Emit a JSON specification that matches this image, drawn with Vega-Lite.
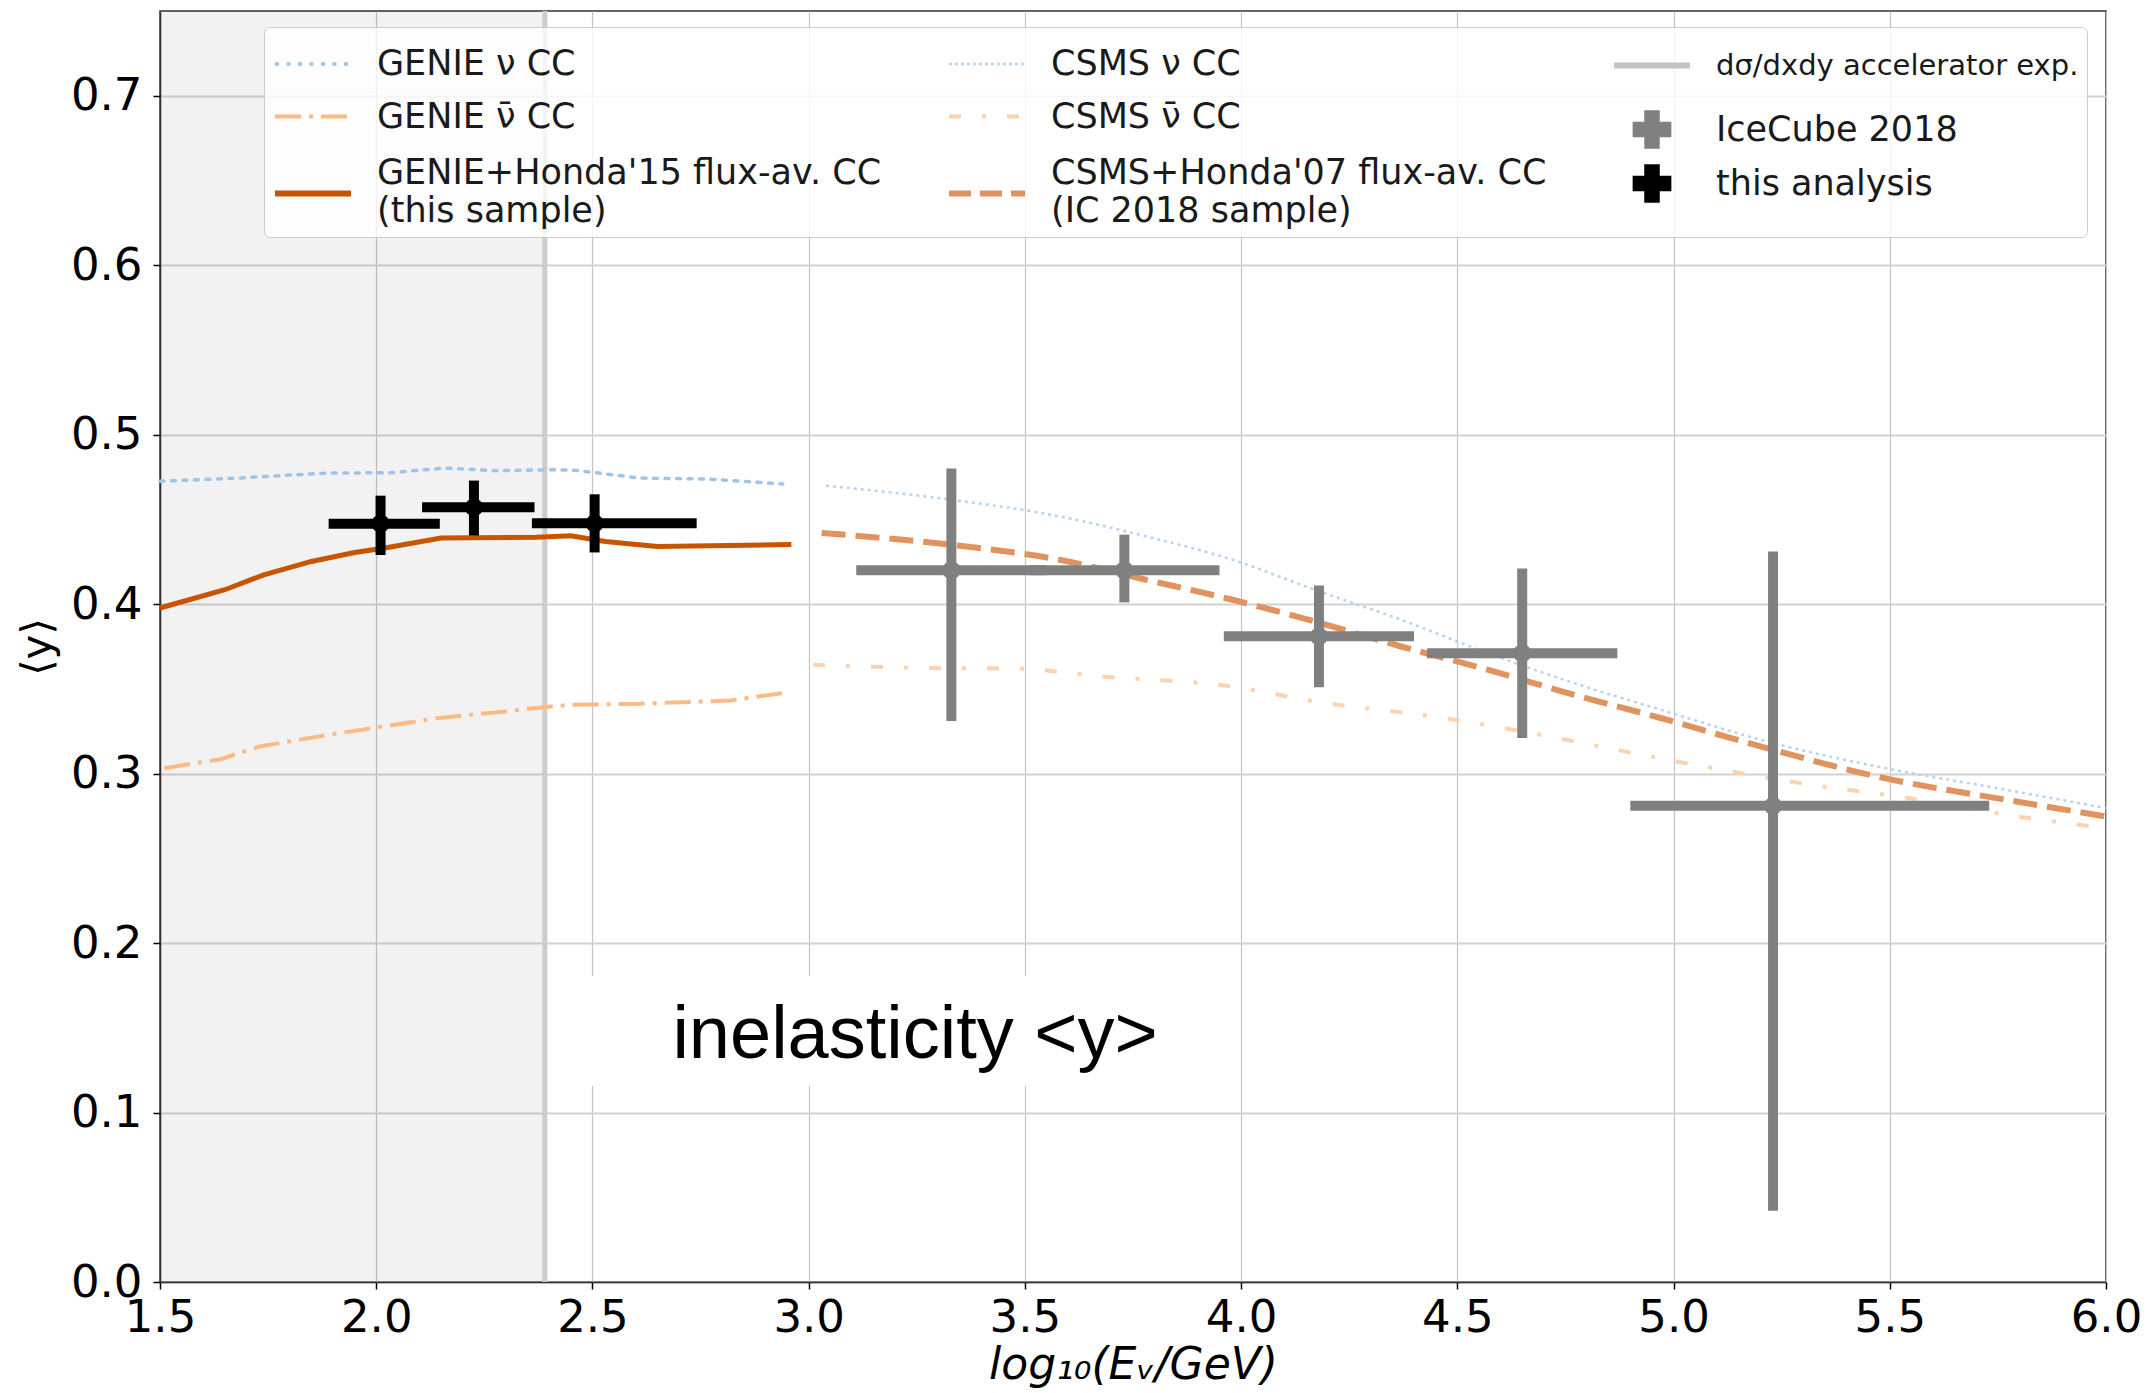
{
  "$schema": "https://vega.github.io/schema/vega-lite/v6.json",
  "width": 1946,
  "height": 1271,
  "autosize": {"type": "none"},
  "padding": {"left": 160, "top": 11, "right": 44, "bottom": 111},
  "background": "white",
  "config": {
    "view": {"stroke": "#333333", "strokeWidth": 1.5},
    "axis": {
      "labelFont": "DejaVu Sans", "labelFontSize": 45, "labelColor": "#000000",
      "labelFlush": false, "labelOverlap": false,
      "tickSize": 7, "tickColor": "#000000", "tickWidth": 1.5,
      "domainColor": "#333333", "domainWidth": 1.5,
      "titleFont": "DejaVu Sans", "titleFontWeight": "normal", "titleColor": "#000000"
    }
  },
  "datasets": {
    "curves": [
      {"series": "GENIE ν CC", "x": 1.50, "y": 0.4725},
      {"series": "GENIE ν CC", "x": 1.68, "y": 0.4744},
      {"series": "GENIE ν CC", "x": 1.89, "y": 0.4774},
      {"series": "GENIE ν CC", "x": 2.03, "y": 0.4775},
      {"series": "GENIE ν CC", "x": 2.16, "y": 0.4803},
      {"series": "GENIE ν CC", "x": 2.28, "y": 0.4787},
      {"series": "GENIE ν CC", "x": 2.40, "y": 0.4793},
      {"series": "GENIE ν CC", "x": 2.46, "y": 0.4790},
      {"series": "GENIE ν CC", "x": 2.61, "y": 0.4744},
      {"series": "GENIE ν CC", "x": 2.77, "y": 0.4738},
      {"series": "GENIE ν CC", "x": 2.94, "y": 0.4709},
      {"series": "GENIE ν̄ CC", "x": 1.51, "y": 0.3032},
      {"series": "GENIE ν̄ CC", "x": 1.64, "y": 0.3085},
      {"series": "GENIE ν̄ CC", "x": 1.73, "y": 0.3160},
      {"series": "GENIE ν̄ CC", "x": 1.89, "y": 0.3229},
      {"series": "GENIE ν̄ CC", "x": 1.99, "y": 0.3268},
      {"series": "GENIE ν̄ CC", "x": 2.14, "y": 0.3327},
      {"series": "GENIE ν̄ CC", "x": 2.30, "y": 0.3367},
      {"series": "GENIE ν̄ CC", "x": 2.385, "y": 0.3392},
      {"series": "GENIE ν̄ CC", "x": 2.45, "y": 0.3406},
      {"series": "GENIE ν̄ CC", "x": 2.61, "y": 0.3412},
      {"series": "GENIE ν̄ CC", "x": 2.82, "y": 0.3432},
      {"series": "GENIE ν̄ CC", "x": 2.94, "y": 0.3475},
      {"series": "GENIE+Honda'15 flux-av. CC\n(this sample)", "x": 1.50, "y": 0.3977},
      {"series": "GENIE+Honda'15 flux-av. CC\n(this sample)", "x": 1.65, "y": 0.4085},
      {"series": "GENIE+Honda'15 flux-av. CC\n(this sample)", "x": 1.74, "y": 0.4173},
      {"series": "GENIE+Honda'15 flux-av. CC\n(this sample)", "x": 1.85, "y": 0.4252},
      {"series": "GENIE+Honda'15 flux-av. CC\n(this sample)", "x": 1.95, "y": 0.4305},
      {"series": "GENIE+Honda'15 flux-av. CC\n(this sample)", "x": 2.02, "y": 0.4331},
      {"series": "GENIE+Honda'15 flux-av. CC\n(this sample)", "x": 2.15, "y": 0.4390},
      {"series": "GENIE+Honda'15 flux-av. CC\n(this sample)", "x": 2.37, "y": 0.4394},
      {"series": "GENIE+Honda'15 flux-av. CC\n(this sample)", "x": 2.45, "y": 0.4404},
      {"series": "GENIE+Honda'15 flux-av. CC\n(this sample)", "x": 2.53, "y": 0.4370},
      {"series": "GENIE+Honda'15 flux-av. CC\n(this sample)", "x": 2.65, "y": 0.4340},
      {"series": "GENIE+Honda'15 flux-av. CC\n(this sample)", "x": 2.96, "y": 0.4352},
      {"series": "CSMS ν CC", "x": 3.04, "y": 0.4699},
      {"series": "CSMS ν CC", "x": 3.33, "y": 0.4616},
      {"series": "CSMS ν CC", "x": 3.58, "y": 0.4518},
      {"series": "CSMS ν CC", "x": 3.78, "y": 0.4400},
      {"series": "CSMS ν CC", "x": 3.98, "y": 0.4262},
      {"series": "CSMS ν CC", "x": 4.17, "y": 0.4085},
      {"series": "CSMS ν CC", "x": 4.37, "y": 0.3908},
      {"series": "CSMS ν CC", "x": 4.57, "y": 0.3711},
      {"series": "CSMS ν CC", "x": 4.77, "y": 0.3534},
      {"series": "CSMS ν CC", "x": 4.97, "y": 0.3377},
      {"series": "CSMS ν CC", "x": 5.23, "y": 0.3180},
      {"series": "CSMS ν CC", "x": 5.47, "y": 0.3042},
      {"series": "CSMS ν CC", "x": 5.77, "y": 0.2904},
      {"series": "CSMS ν CC", "x": 6.00, "y": 0.2796},
      {"series": "CSMS ν̄ CC", "x": 3.01, "y": 0.3642},
      {"series": "CSMS ν̄ CC", "x": 3.28, "y": 0.3623},
      {"series": "CSMS ν̄ CC", "x": 3.48, "y": 0.3620},
      {"series": "CSMS ν̄ CC", "x": 3.68, "y": 0.3573},
      {"series": "CSMS ν̄ CC", "x": 3.98, "y": 0.3514},
      {"series": "CSMS ν̄ CC", "x": 4.17, "y": 0.3426},
      {"series": "CSMS ν̄ CC", "x": 4.47, "y": 0.3328},
      {"series": "CSMS ν̄ CC", "x": 4.67, "y": 0.3239},
      {"series": "CSMS ν̄ CC", "x": 4.87, "y": 0.3140},
      {"series": "CSMS ν̄ CC", "x": 5.07, "y": 0.3042},
      {"series": "CSMS ν̄ CC", "x": 5.27, "y": 0.2953},
      {"series": "CSMS ν̄ CC", "x": 5.57, "y": 0.2845},
      {"series": "CSMS ν̄ CC", "x": 5.77, "y": 0.2757},
      {"series": "CSMS ν̄ CC", "x": 6.00, "y": 0.2678},
      {"series": "CSMS+Honda'07 flux-av. CC\n(IC 2018 sample)", "x": 3.03, "y": 0.4420},
      {"series": "CSMS+Honda'07 flux-av. CC\n(IC 2018 sample)", "x": 3.33, "y": 0.4350},
      {"series": "CSMS+Honda'07 flux-av. CC\n(IC 2018 sample)", "x": 3.58, "y": 0.4262},
      {"series": "CSMS+Honda'07 flux-av. CC\n(IC 2018 sample)", "x": 3.78, "y": 0.4144},
      {"series": "CSMS+Honda'07 flux-av. CC\n(IC 2018 sample)", "x": 3.98, "y": 0.4026},
      {"series": "CSMS+Honda'07 flux-av. CC\n(IC 2018 sample)", "x": 4.17, "y": 0.3898},
      {"series": "CSMS+Honda'07 flux-av. CC\n(IC 2018 sample)", "x": 4.37, "y": 0.3750},
      {"series": "CSMS+Honda'07 flux-av. CC\n(IC 2018 sample)", "x": 4.57, "y": 0.3613},
      {"series": "CSMS+Honda'07 flux-av. CC\n(IC 2018 sample)", "x": 4.77, "y": 0.3465},
      {"series": "CSMS+Honda'07 flux-av. CC\n(IC 2018 sample)", "x": 4.97, "y": 0.3328},
      {"series": "CSMS+Honda'07 flux-av. CC\n(IC 2018 sample)", "x": 5.23, "y": 0.3140},
      {"series": "CSMS+Honda'07 flux-av. CC\n(IC 2018 sample)", "x": 5.47, "y": 0.2983},
      {"series": "CSMS+Honda'07 flux-av. CC\n(IC 2018 sample)", "x": 5.77, "y": 0.2845},
      {"series": "CSMS+Honda'07 flux-av. CC\n(IC 2018 sample)", "x": 6.00, "y": 0.2747}
    ],
    "points": [
      {"series": "IceCube 2018", "x": 3.33, "y": 0.420, "xlo": 3.11, "xhi": 3.55, "ylo": 0.331, "yhi": 0.480},
      {"series": "IceCube 2018", "x": 3.73, "y": 0.420, "xlo": 3.51, "xhi": 3.95, "ylo": 0.401, "yhi": 0.441},
      {"series": "IceCube 2018", "x": 4.18, "y": 0.381, "xlo": 3.96, "xhi": 4.40, "ylo": 0.351, "yhi": 0.411},
      {"series": "IceCube 2018", "x": 4.65, "y": 0.371, "xlo": 4.43, "xhi": 4.87, "ylo": 0.321, "yhi": 0.421},
      {"series": "IceCube 2018", "x": 5.23, "y": 0.281, "xlo": 4.90, "xhi": 5.73, "ylo": 0.042, "yhi": 0.431},
      {"series": "this analysis", "x": 2.01, "y": 0.4475, "xlo": 1.89, "xhi": 2.147, "ylo": 0.429, "yhi": 0.464},
      {"series": "this analysis", "x": 2.226, "y": 0.4571, "xlo": 2.106, "xhi": 2.366, "ylo": 0.4405, "yhi": 0.4729},
      {"series": "this analysis", "x": 2.505, "y": 0.4477, "xlo": 2.36, "xhi": 2.741, "ylo": 0.4305, "yhi": 0.4648}
    ]
  },
  "layer": [
    {
      "data": {"values": [{}]},
      "mark": {"type": "rect", "fill": "#000000", "opacity": 0.05},
      "encoding": {
        "x": {"datum": 1.5, "type": "quantitative", "scale": {"domain": [1.5, 6], "nice": false, "zero": false}},
        "x2": {"datum": 2.39},
        "y": {"datum": 0, "type": "quantitative", "scale": {"domain": [0, 0.75], "nice": false, "zero": false}},
        "y2": {"datum": 0.75}
      }
    },
    {
      "data": {"values": [{}]},
      "mark": {"type": "rule", "stroke": "#cccccc", "strokeWidth": 5},
      "encoding": {
        "x": {"datum": 2.39, "type": "quantitative", "scale": {"domain": [1.5, 6], "nice": false, "zero": false}}
      }
    },
    {
      "data": {"values": [{}]},
      "mark": {"type": "rect", "fill": "#ffffff"},
      "encoding": {
        "x": {"datum": 2.45, "type": "quantitative", "scale": {"domain": [1.5, 6], "nice": false, "zero": false}},
        "x2": {"datum": 3.9},
        "y": {"datum": 0.1157, "type": "quantitative", "scale": {"domain": [0, 0.75], "nice": false, "zero": false}},
        "y2": {"datum": 0.1806}
      }
    },
    {
      "data": {"values": [{}]},
      "mark": {"type": "text", "text": "inelasticity <y>", "font": "Liberation Sans", "fontSize": 74, "align": "center", "baseline": "alphabetic", "color": "#000000"},
      "encoding": {
        "x": {"datum": 3.246, "type": "quantitative", "scale": {"domain": [1.5, 6], "nice": false, "zero": false}},
        "y": {"datum": 0.1322, "type": "quantitative", "scale": {"domain": [0, 0.75], "nice": false, "zero": false}}
      }
    },
    {
      "data": {"name": "curves"},
      "transform": [{"filter": "datum.series == 'GENIE ν CC'"}],
      "mark": {"type": "line", "strokeWidth": 3.5, "strokeDash": [4, 7.5], "strokeCap": "round"},
      "encoding": {
        "x": {"field": "x", "type": "quantitative", "scale": {"domain": [1.5, 6], "nice": false, "zero": false},
          "axis": {"values": [1.5, 2, 2.5, 3, 3.5, 4, 4.5, 5, 5.5, 6], "format": ".1f", "labelPadding": 6, "grid": true, "gridColor": "#c4c4c4", "gridWidth": 1.2,
            "title": "log₁₀(Eᵥ/GeV)", "titleFontSize": 44, "titleFontStyle": "italic", "titlePadding": 3}},
        "y": {"field": "y", "type": "quantitative", "scale": {"domain": [0, 0.75], "nice": false, "zero": false},
          "axis": {"values": [0, 0.1, 0.2, 0.3, 0.4, 0.5, 0.6, 0.7], "format": ".1f", "labelPadding": 11, "grid": true, "gridColor": "#d2d2d2", "gridWidth": 2,
            "title": "⟨y⟩", "titleFontSize": 42, "titlePadding": 11}},
        "color": {
          "field": "series", "type": "nominal",
          "scale": {
            "domain": ["GENIE ν CC", "GENIE ν̄ CC", "GENIE+Honda'15 flux-av. CC\n(this sample)", "CSMS ν CC", "CSMS ν̄ CC", "CSMS+Honda'07 flux-av. CC\n(IC 2018 sample)", "dσ/dxdy accelerator exp.", "IceCube 2018", "this analysis"],
            "range": ["#9fc4ea", "#fdbb84", "#c85400", "#b8d2ef", "#fdd2ad", "#e0935e", "#c4c4c4", "#808080", "#000000"]
          },
          "legend": {
            "title": null,
            "orient": "none", "legendX": 104, "legendY": 16,
            "columns": 3, "columnPadding": 55, "rowPadding": 2, "gridAlign": "each",
            "padding": 8, "fillColor": "rgba(255,255,255,0.8)", "strokeColor": "#cccccc", "cornerRadius": 6,
            "symbolSize": 400, "symbolStrokeWidth": 4,
            "labelFont": "DejaVu Sans", "labelFontSize": 35, "labelColor": "#1a1a1a", "labelOffset": 23, "labelLimit": 2000,
            "labelExpr": "split(datum.label, '\\n')",
            "encode": {
              "symbols": {"update": {
                "shape": {"signal": "datum.index >= 7 ? 'cross' : 'M-3.8,0H3.8'"},
                "size": {"signal": "datum.index >= 7 ? 1500 : 400"},
                "stroke": {"signal": "['#9fc4ea','#fdbb84','#c85400','#b8d2ef','#fdd2ad','#e0935e','#c4c4c4','transparent','transparent'][datum.index]"},
                "fill": {"signal": "datum.index == 7 ? '#808080' : datum.index == 8 ? '#000000' : 'transparent'"},
                "strokeWidth": {"signal": "[3.5,4,6,2.5,4,6,6,0,0][datum.index]"},
                "strokeDash": {"signal": "[[4,7.5],[26,8,4,8],[1,0],[3,3],[12,21,4,21],[22,9],[1,0],[1,0],[1,0]][datum.index]"},
                "opacity": {"value": 1},
                "x": {"value": 41},
                "y": {"signal": "[29,32.5,42.5,29,32.5,42.5,29,45.5,32.5][datum.index]"}
              }},
              "labels": {"update": {
                "fontSize": {"signal": "datum.index == 6 ? 29 : 35"},
                "lineHeight": {"value": 38},
                "x": {"value": 105},
                "y": {"signal": "[29,32.5,21.5,29,32.5,21.5,29,45.5,32.5][datum.index]"}
              }}
            }
          }
        }
      }
    },
    {
      "data": {"name": "curves"},
      "transform": [{"filter": "datum.series == 'GENIE ν̄ CC'"}],
      "mark": {"type": "line", "strokeWidth": 4, "strokeDash": [26, 8, 4, 8]},
      "encoding": {
        "x": {"field": "x", "type": "quantitative"},
        "y": {"field": "y", "type": "quantitative"},
        "color": {"field": "series", "type": "nominal"}
      }
    },
    {
      "data": {"name": "curves"},
      "transform": [{"filter": "indexof(datum.series, 'GENIE+Honda') == 0"}],
      "mark": {"type": "line", "strokeWidth": 5},
      "encoding": {
        "x": {"field": "x", "type": "quantitative"},
        "y": {"field": "y", "type": "quantitative"},
        "color": {"field": "series", "type": "nominal"}
      }
    },
    {
      "data": {"name": "curves"},
      "transform": [{"filter": "datum.series == 'CSMS ν CC'"}],
      "mark": {"type": "line", "strokeWidth": 2.5, "strokeDash": [3, 4], "interpolate": "monotone"},
      "encoding": {
        "x": {"field": "x", "type": "quantitative"},
        "y": {"field": "y", "type": "quantitative"},
        "color": {"field": "series", "type": "nominal"}
      }
    },
    {
      "data": {"name": "curves"},
      "transform": [{"filter": "datum.series == 'CSMS ν̄ CC'"}],
      "mark": {"type": "line", "strokeWidth": 4, "strokeDash": [12, 21, 4, 21], "interpolate": "monotone"},
      "encoding": {
        "x": {"field": "x", "type": "quantitative"},
        "y": {"field": "y", "type": "quantitative"},
        "color": {"field": "series", "type": "nominal"}
      }
    },
    {
      "data": {"name": "curves"},
      "transform": [{"filter": "indexof(datum.series, 'CSMS+Honda') == 0"}],
      "mark": {"type": "line", "strokeWidth": 6, "strokeDash": [24, 10], "interpolate": "monotone"},
      "encoding": {
        "x": {"field": "x", "type": "quantitative"},
        "y": {"field": "y", "type": "quantitative"},
        "color": {"field": "series", "type": "nominal"}
      }
    },
    {
      "data": {"name": "points"},
      "mark": {"type": "rule", "strokeWidth": 10},
      "encoding": {
        "x": {"field": "xlo", "type": "quantitative"},
        "x2": {"field": "xhi"},
        "y": {"field": "y", "type": "quantitative"},
        "color": {"field": "series", "type": "nominal"}
      }
    },
    {
      "data": {"name": "points"},
      "mark": {"type": "rule", "strokeWidth": 10},
      "encoding": {
        "x": {"field": "x", "type": "quantitative"},
        "y": {"field": "ylo", "type": "quantitative"},
        "y2": {"field": "yhi"},
        "color": {"field": "series", "type": "nominal"}
      }
    },
    {
      "data": {"name": "points"},
      "mark": {"type": "point", "shape": "circle", "filled": true, "size": 330, "opacity": 1},
      "encoding": {
        "x": {"field": "x", "type": "quantitative"},
        "y": {"field": "y", "type": "quantitative"},
        "color": {"field": "series", "type": "nominal"}
      }
    }
  ]
}
